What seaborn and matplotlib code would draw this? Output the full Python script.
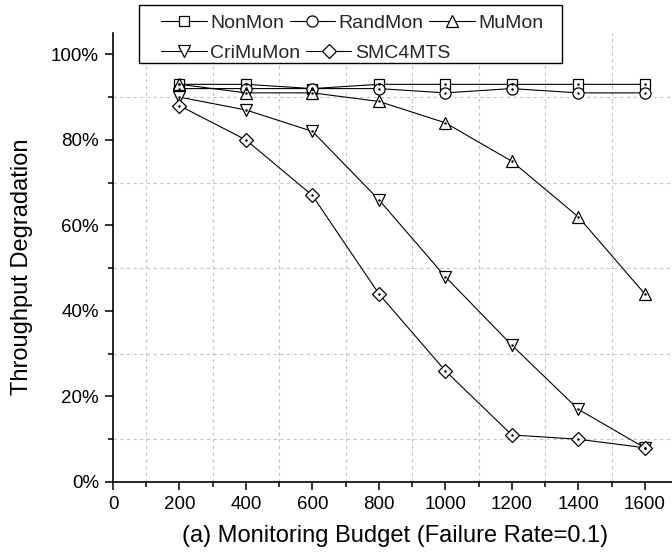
import matplotlib
matplotlib.use("Agg")
import matplotlib.pyplot as plt
from matplotlib.ticker import MultipleLocator, FuncFormatter
from matplotlib.patches import Rectangle
import seaborn as sns

# Monitoring budget and throughput degradation (%) per strategy
budgets = [200, 400, 600, 800, 1000, 1200, 1400, 1600]
non_mon = [93, 93, 92, 93, 93, 93, 93, 93]
rand_mon = [92, 92, 92, 92, 91, 92, 91, 91]
mu_mon = [93, 91, 91, 89, 84, 75, 62, 44]
cri_mu_mon = [90, 87, 82, 66, 48, 32, 17, 8]
smc4mts = [88, 80, 67, 44, 26, 11, 10, 8]

series = [
    ("NonMon", non_mon, "s", 7.2),
    ("RandMon", rand_mon, "o", 8.0),
    ("MuMon", mu_mon, "^", 9.0),
    ("CriMuMon", cri_mu_mon, "v", 9.0),
    ("SMC4MTS", smc4mts, "D", 7.0),
]

sns.set_theme(style="ticks")
plt.rcParams["font.family"] = ["Liberation Sans", "DejaVu Sans"]
FS = 13.5
LEG_FS = 14
LABEL_FS = 17

fig = plt.figure(figsize=(6.72, 5.58), dpi=100)
ax = fig.add_axes([113 / 672, 76 / 558, 565 / 672, 449 / 558])

handles = {}
for name, vals, mk, ms in series:
    sns.lineplot(x=budgets, y=vals, ax=ax, color="black", linewidth=0.8,
                 marker=mk, markersize=ms, markerfacecolor="white",
                 markeredgecolor="black", markeredgewidth=0.9,
                 label=name, legend=False, zorder=3)
    handles[name] = ax.get_lines()[-1]
    # small centre dot inside each marker
    ax.plot(budgets, vals, linestyle="none", marker=".", markersize=1.6,
            color="black", zorder=4)

ax.set_xlim(0, 1700)
ax.set_ylim(0, 105)
ax.xaxis.set_major_locator(MultipleLocator(200))
ax.xaxis.set_minor_locator(MultipleLocator(100))
ax.yaxis.set_major_locator(MultipleLocator(20))
ax.yaxis.set_minor_locator(MultipleLocator(10))
ax.yaxis.set_major_formatter(FuncFormatter(lambda v, p: f"{v:.0f}%"))

ax.grid(which="minor", linestyle=(0, (3, 3)), color="#c4c4c4", linewidth=0.8)
ax.grid(which="major", visible=False)

for side in ("top", "right"):
    ax.spines[side].set_visible(False)
for side in ("left", "bottom"):
    ax.spines[side].set_linewidth(1.2)
    ax.spines[side].set_color("black")

ax.tick_params(which="major", direction="out", length=6, width=1.1,
               labelsize=FS, pad=4, colors="black")
ax.tick_params(which="minor", direction="out", length=3.5, width=1.1,
               colors="black")

ax.set_xlabel("(a) Monitoring Budget (Failure Rate=0.1)", fontsize=LABEL_FS,
              labelpad=9, color="black")
ax.set_ylabel("Throughput Degradation", fontsize=LABEL_FS, color="black")
ax.yaxis.set_label_coords(-0.142, 0.48)

# Legend laid out row by row inside a single frame
frame = Rectangle((139 / 672, 1 - 63 / 558), 423 / 672, 58 / 558,
                  transform=fig.transFigure, facecolor="white",
                  edgecolor="black", linewidth=1.0, zorder=4)
fig.add_artist(frame)

rows = [["NonMon", "RandMon", "MuMon"], ["CriMuMon", "SMC4MTS"]]
row_y = [23, 53]
for names, yy in zip(rows, row_y):
    leg = fig.legend([handles[n] for n in names], names, ncol=len(names),
                     loc="center left",
                     bbox_to_anchor=(161 / 672, 1 - yy / 558),
                     frameon=False, fontsize=LEG_FS, borderpad=0,
                     handlelength=2.35, handletextpad=0.18,
                     columnspacing=0.28, borderaxespad=0)
    leg.set_zorder(5)

fig.savefig("out.png", dpi=100)
